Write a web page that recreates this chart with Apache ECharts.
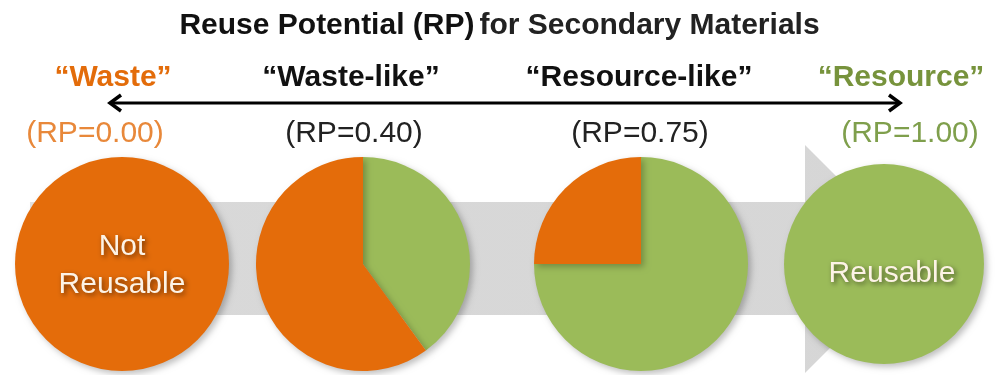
<!DOCTYPE html>
<html>
<head>
<meta charset="utf-8">
<title>Reuse Potential</title>
<script src="https://cdn.jsdelivr.net/npm/echarts@6/dist/echarts.min.js"></script>
<style>
    html, body { margin: 0; padding: 0; background: #fff; }
    #main { width: 999px; height: 375px; }
</style>
</head>
<body>
<div id="main"></div>
<script>
(function () {
    "use strict";

    // data
    var classNames = ['“Waste”', '“Waste-like”', '“Resource-like”', '“Resource”'];
    var rpValues = [0.00, 0.40, 0.75, 1.00];
    var sliceNames = ['Reusable', 'Not Reusable'];
    var centerText = ['Not\nReusable', '', '', 'Reusable'];

    var orange = '#e46c0a';
    var green = '#9bbb59';
    var font = '"Liberation Sans", Arial, sans-serif';

    // layout
    var pieX = [122, 363, 641, 884];
    var pieY = 264;
    var pieR = [107, 107, 107, 100];
    var classX = [113, 351, 639, 901];
    var rpX = [95, 354, 640, 910];
    var classColor = ['#e36c0a', '#111', '#111', '#77933c'];
    var rpColor = ['#e8883a', '#222', '#222', '#7f9f4c'];

    var series = rpValues.map(function (rp, i) {
        var data = [
            {value: rp, name: sliceNames[0], itemStyle: {color: green}},
            {value: 1 - rp, name: sliceNames[1], itemStyle: {color: orange}}
        ];
        if (centerText[i]) {
            var idx = rp >= 0.5 ? 0 : 1;
            data[idx].label = {
                show: true,
                position: 'center',
                formatter: centerText[i],
                color: '#fdf3e6',
                fontFamily: font,
                fontSize: 30,
                lineHeight: 38,
                textShadowColor: 'rgba(0,0,0,0.55)',
                textShadowBlur: 5,
                textShadowOffsetX: 2,
                textShadowOffsetY: 2,
                offset: i === 3 ? [8, 10] : [0, 2]
            };
        }
        return {
            type: 'pie',
            radius: pieR[i],
            center: [pieX[i], pieY],
            startAngle: 90,
            clockwise: true,
            silent: true,
            animation: false,
            label: {show: false},
            labelLine: {show: false},
            itemStyle: {
                shadowBlur: 6,
                shadowOffsetX: 3,
                shadowOffsetY: 3,
                shadowColor: 'rgba(0,0,0,0.25)'
            },
            z: 5,
            data: data
        };
    });

    var graphics = [];

    // grey band arrow behind the pies
    graphics.push({
        type: 'polygon',
        z: -10,
        shape: {
            points: [[30, 202], [805, 202], [805, 145], [919, 259], [805, 373], [805, 315], [30, 315]]
        },
        style: {
            fill: new echarts.graphic.LinearGradient(0, 0, 1, 0, [
                {offset: 0, color: '#e4e4e4'},
                {offset: 0.05, color: '#d9d9d9'},
                {offset: 1, color: '#d6d6d6'}
            ])
        }
    });

    // double headed arrow
    graphics.push({
        type: 'line',
        shape: {x1: 110, y1: 103, x2: 900, y2: 103},
        style: {stroke: '#000', lineWidth: 3}
    });
    graphics.push({
        type: 'polyline',
        shape: {points: [[121, 95], [110, 103], [121, 111]]},
        style: {stroke: '#000', lineWidth: 3.5, fill: null}
    });
    graphics.push({
        type: 'polyline',
        shape: {points: [[889, 95], [900, 103], [889, 111]]},
        style: {stroke: '#000', lineWidth: 3.5, fill: null}
    });

    classNames.forEach(function (name, i) {
        graphics.push({
            type: 'text',
            x: classX[i],
            y: 78,
            style: {
                text: name,
                fill: classColor[i],
                font: 'bold 30px ' + font,
                align: 'center',
                verticalAlign: 'middle'
            }
        });
        graphics.push({
            type: 'text',
            x: rpX[i],
            y: 134,
            style: {
                text: '(RP=' + rpValues[i].toFixed(2) + ')',
                fill: rpColor[i],
                font: '30px ' + font,
                align: 'center',
                verticalAlign: 'middle'
            }
        });
    });

    var myChart = echarts.init(document.getElementById('main'));
    var option = {
        backgroundColor: '#fff',
        animation: false,
        title: {
            text: '{b|Reuse Potential (RP)} {n|for Secondary Materials}',
            left: 'center',
            top: 6,
            textStyle: {
                rich: {
                    b: {fontFamily: font, fontSize: 30, fontWeight: 'bold', color: '#111'},
                    n: {fontFamily: font, fontSize: 30, color: '#222'}
                }
            }
        },
        graphic: graphics,
        series: series
    };
    myChart.setOption(option);
})();
</script>
</body>
</html>
